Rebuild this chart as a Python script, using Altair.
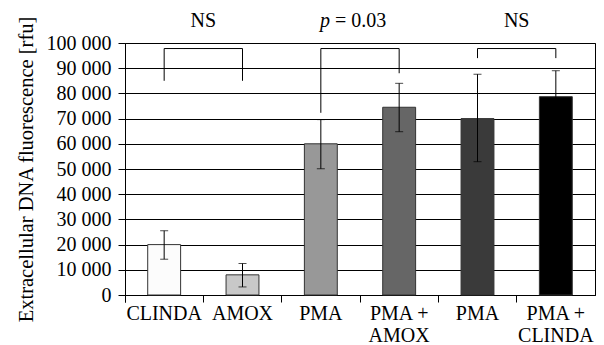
import altair as alt
import pandas as pd

# ---- data ----
ids = ["c1", "c2", "c3", "c4", "c5", "c6"]
labels = [["CLINDA"], ["AMOX"], ["PMA"], ["PMA +", "AMOX"], ["PMA"], ["PMA +", "CLINDA"]]
values = [20000, 8000, 60000, 74500, 70000, 78700]
err_low = [14200, 3200, 50100, 64800, 52900, 68500]
err_high = [25500, 12500, 69600, 84000, 87600, 89000]
colors = ["#fcfcfc", "#c8c8c8", "#989898", "#666666", "#3a3a3a", "#000000"]

br_from = ["c1", "c3", "c5"]
br_to = ["c2", "c4", "c6"]
br_top = [97800, 97800, 97800]
br_from_end = [85000, 72300, 94000]
br_to_end = [85000, 88000, 94000]
sig_italic = ["", "p", ""]
sig_rest = ["NS", "= 0.03", "NS"]
sig_y = [108600, 108600, 108600]

y_ticks = list(range(0, 100001, 10000))

FONT = "Liberation Serif"
FS = 20

df = pd.DataFrame({"id": ids, "value": values, "lo": err_low, "hi": err_high})
br = pd.DataFrame({"from": br_from, "to": br_to, "top": br_top,
                   "from_end": br_from_end, "to_end": br_to_end,
                   "it": sig_italic, "rest": sig_rest, "ty": sig_y})

# label expression for multi-line category labels
expr = "''"
for i, lab in reversed(list(zip(ids, labels))):
    arr = "[" + ",".join("'" + s + "'" for s in lab) + "]"
    expr = f"datum.value == '{i}' ? {arr} : " + expr

xscale = alt.Scale(domain=ids, paddingInner=0, paddingOuter=0)
xaxis = alt.Axis(title=None, labelExpr=expr, bandPosition=0, tickExtra=True,
                 tickSize=7, labelPadding=1, labelLineHeight=22, labelAngle=0, grid=False)
yscale = alt.Scale(domain=[0, 100000], nice=False)
yaxis = alt.Axis(title="Extracellular DNA fluorescence [rfu]", values=y_ticks,
                 labelExpr="datum.value >= 1000 ? floor(datum.value/1000) + ' 000' : '0'",
                 tickSize=7, labelPadding=7, titlePadding=10)


def X(field, **kw):
    return alt.X(field + ":N", scale=xscale, axis=xaxis, sort=ids, **kw)


def Y(field):
    return alt.Y(field + ":Q", scale=yscale, axis=yaxis)


base = alt.Chart(df)

bars = base.mark_bar(width=alt.RelativeBandSize(0.42), stroke="#333333",
                     strokeWidth=1).encode(
    x=X("id"), y=Y("value"),
    color=alt.Color("id:N", scale=alt.Scale(domain=ids, range=colors), legend=None),
)

err = base.mark_rule(color="black", strokeWidth=1).encode(x=X("id"), y=Y("lo"), y2="hi")
cap_hi = base.mark_tick(color="black", thickness=1, size=8, orient="horizontal").encode(x=X("id"), y=Y("hi"))
cap_lo = base.mark_tick(color="black", thickness=1, size=8, orient="horizontal").encode(x=X("id"), y=Y("lo"))

bbase = alt.Chart(br)
b_h = bbase.mark_rule(color="black", strokeWidth=1).encode(x=X("from"), x2="to", y=Y("top"))
b_l = bbase.mark_rule(color="black", strokeWidth=1).encode(x=X("from"), y=Y("from_end"), y2="top")
b_r = bbase.mark_rule(color="black", strokeWidth=1).encode(x=X("to"), y=Y("to_end"), y2="top")

t_rest_plain = bbase.transform_filter("datum.it == ''").mark_text(
    font=FONT, fontSize=FS, color="black", baseline="middle").encode(
    x=X("from", bandPosition=1), y=Y("ty"), text="rest:N")
t_it = bbase.transform_filter("datum.it != ''").mark_text(
    font=FONT, fontSize=FS, fontStyle="italic", color="black", baseline="middle",
    align="right", dx=-30).encode(
    x=X("from", bandPosition=1), y=Y("ty"), text="it:N")
t_rest = bbase.transform_filter("datum.it != ''").mark_text(
    font=FONT, fontSize=FS, color="black", baseline="middle",
    align="left", dx=-25).encode(
    x=X("from", bandPosition=1), y=Y("ty"), text="rest:N")

chart = alt.layer(bars, err, cap_hi, cap_lo, b_h, b_l, b_r, t_rest_plain, t_it, t_rest).properties(
    width=470, height=252,
    padding={"left": 117, "top": 35, "right": 1, "bottom": 50},
    autosize=alt.AutoSizeParams(type="none"),
    background="white",
).configure_view(stroke="black", strokeWidth=1).configure_axis(
    labelFont=FONT, labelFontSize=FS, labelColor="black",
    titleFont=FONT, titleFontSize=20.5, titleFontWeight="normal", titleColor="black",
    tickColor="black", domainColor="black",
    gridColor="black", gridOpacity=1, gridWidth=1,
).configure_text(font=FONT)

chart.save("out.html", embed_options={"renderer": "svg", "actions": False})
